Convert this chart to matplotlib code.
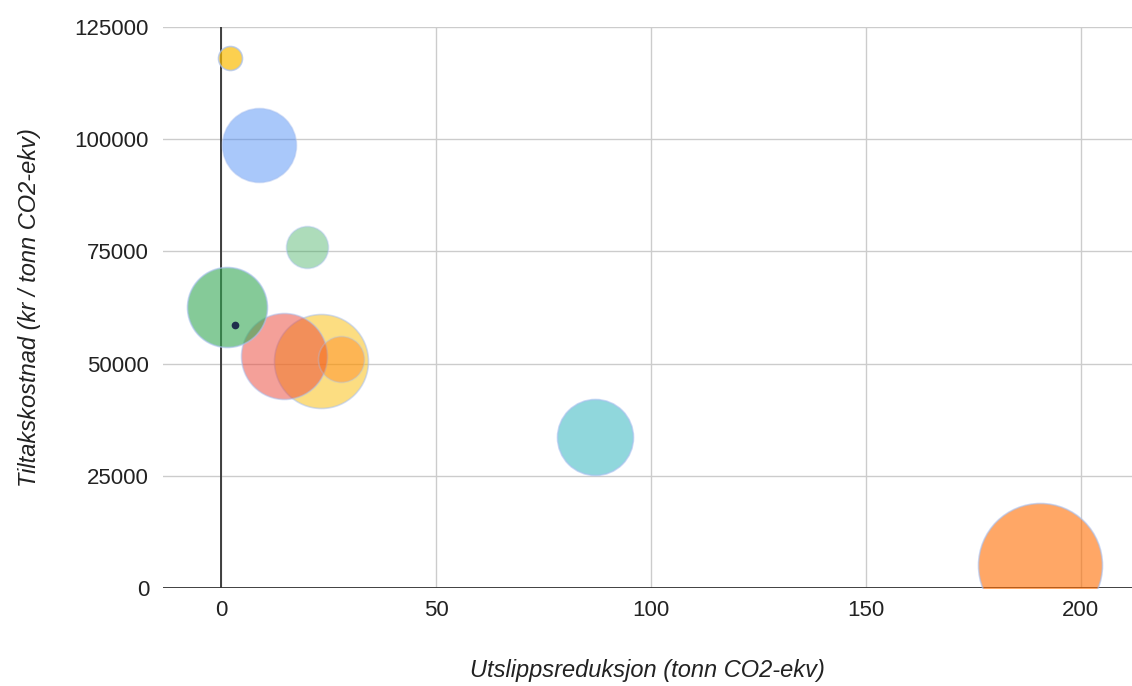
import numpy as np
import matplotlib.pyplot as plt

plt.rcParams['font.family'] = ['Liberation Sans', 'DejaVu Sans']

# Tiltak: utslippsreduksjon, tiltakskostnad og boblestørrelse
reduksjon = [2.1, 8.8, 20.0, 1.4, 3.3, 14.7, 23.3, 27.9, 87.0, 190.5]
kostnad = [118100, 98700, 76000, 62600, 58600, 51700, 50600, 51000, 33600, 5100]
storrelse = [12, 37, 21, 40, 3, 43, 47, 23, 38, 62]
farger = ['#fbbc04', '#4285f4', '#34a853', '#34a853', '#1f2d4d',
          '#ea4335', '#fbbc04', '#ff6d01', '#46bdc6', '#ff6d01']
alfa = [0.7, 0.45, 0.4, 0.6, 1.0, 0.5, 0.5, 0.35, 0.6, 0.6]

fig = plt.figure(figsize=(11.32, 6.86), dpi=100)
ax = fig.add_axes([0.144, 0.143, 0.856, 0.8176])

# store bobler først, små oppå
rekkefolge = np.argsort(storrelse)[::-1]
for i in rekkefolge:
    s = (2 * storrelse[i] * 0.72) ** 2
    kant = '#a8c0f0' if storrelse[i] > 5 else farger[i]
    ax.scatter(reduksjon[i], kostnad[i], s=s, color=farger[i], alpha=alfa[i],
               edgecolors=kant, linewidths=1.2, zorder=3)

ax.set_xlim(-13.5, 211.9)
ax.set_ylim(0, 125000)
ax.set_xticks([0, 50, 100, 150, 200])
ax.set_yticks([0, 25000, 50000, 75000, 100000, 125000])
ax.grid(True, color='#cccccc', linewidth=1, zorder=0)
ax.set_axisbelow(True)
for side in ['top', 'right', 'left', 'bottom']:
    ax.spines[side].set_visible(False)
ax.axhline(0, color='#333333', linewidth=1.3, zorder=2)
ax.axvline(0, color='#333333', linewidth=1.3, zorder=2)
ax.tick_params(length=0, labelsize=16, colors='#222222', pad=9)
ax.tick_params(axis='y', pad=10)

ax.set_xlabel('Utslippsreduksjon (tonn CO2-ekv)', fontsize=17, style='italic',
              color='#222222', labelpad=27)
ax.set_ylabel('Tiltakskostnad (kr / tonn CO2-ekv)', fontsize=17, style='italic',
              color='#222222', labelpad=24)

fig.savefig('out.png', dpi=100)
